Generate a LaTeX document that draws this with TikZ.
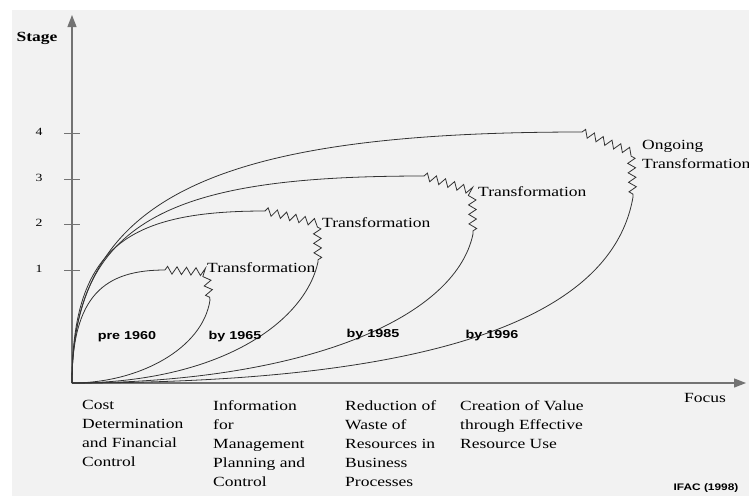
\documentclass[tikz,border=0pt]{standalone}
\usepackage{fontspec}
\setmainfont{Liberation Serif}[FakeStretch=1.25]
\newfontfamily\labsans{Liberation Sans}[FakeStretch=1.25]
\usetikzlibrary{arrows.meta,decorations.pathmorphing}

\begin{document}
\begin{tikzpicture}[x=1pt, y=-1pt,
    axis/.style={draw=black!55, line width=1.3pt},
    curve/.style={draw=black!80, line width=0.8pt},
    zz/.style={curve, decorate, decoration={zigzag, segment length=9.5pt, amplitude=3.8pt}},
    txt/.style={inner sep=0pt, font=\fontsize{14}{19}\selectfont, align=left},
    era/.style={inner sep=0pt, font=\labsans\bfseries\fontsize{11.5}{13}\selectfont}]
            \useasboundingbox (0,0) rectangle (749,496);
            \fill[white] (0,0) rectangle (749,496);
            \fill[black!5] (12,10) rectangle (749,496);
            % axes
            \coordinate (O) at (72,383);
            \coordinate (ytop) at (72,15);
            \coordinate (xend) at (746,383);
            \draw[axis, -{Triangle[length=12pt,width=9pt]}] (O) -- (ytop);
            \draw[axis, -{Triangle[length=12pt,width=9pt]}] (O) -- (xend);
            \node[inner sep=0pt, font=\bfseries\fontsize{14}{16}\selectfont] (stage) at (37,38) {Stage};
            \node[txt] (focus) at (705,398) {Focus};
            \foreach \s/\y in {1/270, 2/224, 3/179, 4/133} {
                \draw[draw=black!55, line width=0.8pt] (64,\y) -- (80,\y);
                \node[inner sep=0pt, font=\fontsize{11}{13}\selectfont] (s\s) at (39,\y-1) {\s};
            }
            % stage loops
            \coordinate (t1) at (165,270);
            \coordinate (k1) at (206,272);
            \coordinate (b1) at (210,300);
            \coordinate (t2) at (265,211);
            \coordinate (k2) at (317,223);
            \coordinate (b2) at (318,262);
            \coordinate (t3) at (424,176);
            \coordinate (k3) at (472,191);
            \coordinate (b3) at (473,234);
            \coordinate (t4) at (582,132);
            \coordinate (k4) at (631,152);
            \coordinate (b4) at (633,197);
            \draw[curve] (O) .. controls (72,295) and (105,270) .. (t1);
            \draw[zz] (t1) -- (k1) -- (b1);
            \draw[curve] (b1) .. controls (203,348) and (140,383) .. (O);
            \draw[curve] (O) .. controls (72,245) and (130,211) .. (t2);
            \draw[zz] (t2) -- (k2) -- (b2);
            \draw[curve] (b2) .. controls (305,322) and (220,383) .. (O);
            \draw[curve] (O) .. controls (72,215) and (180,176) .. (t3);
            \draw[zz] (t3) -- (k3) -- (b3);
            \draw[curve] (b3) .. controls (455,320) and (300,383) .. (O);
            \draw[curve] (O) .. controls (72,195) and (220,132) .. (t4);
            \draw[zz] (t4) -- (k4) -- (b4);
            \draw[curve] (b4) .. controls (610,330) and (400,383) .. (O);
            \node[txt, anchor=west] (tr1) at (207,268) {Transformation};
            \node[txt, anchor=west] (tr2) at (322,223) {Transformation};
            \node[txt, anchor=west] (tr3) at (478,192) {Transformation};
            \node[txt, anchor=north west] (tr4) at (642,140) {Ongoing\\Transformation};
            \node[era] (e1960) at (127,337) {pre 1960};
            \node[era] (e1965) at (235,337) {by 1965};
            \node[era] (e1985) at (373,335) {by 1985};
            \node[era] (e1996) at (492,336) {by 1996};
            % focus labels
            \node[txt, anchor=north west] (f1) at (82,400) {Cost\\Determination\\and Financial\\Control};
            \node[txt, anchor=north west] (f2) at (213,400) {Information\\for\\Management\\Planning and\\Control};
            \node[txt, anchor=north west] (f3) at (345,400) {Reduction of\\Waste of\\Resources in\\Business\\Processes};
            \node[txt, anchor=north west] (f4) at (460,400) {Creation of Value\\through Effective\\Resource Use};
            \node[era, font=\labsans\bfseries\fontsize{9.5}{11}\selectfont] (src) at (706,488) {IFAC (1998)};
        \end{tikzpicture}
\end{document}
